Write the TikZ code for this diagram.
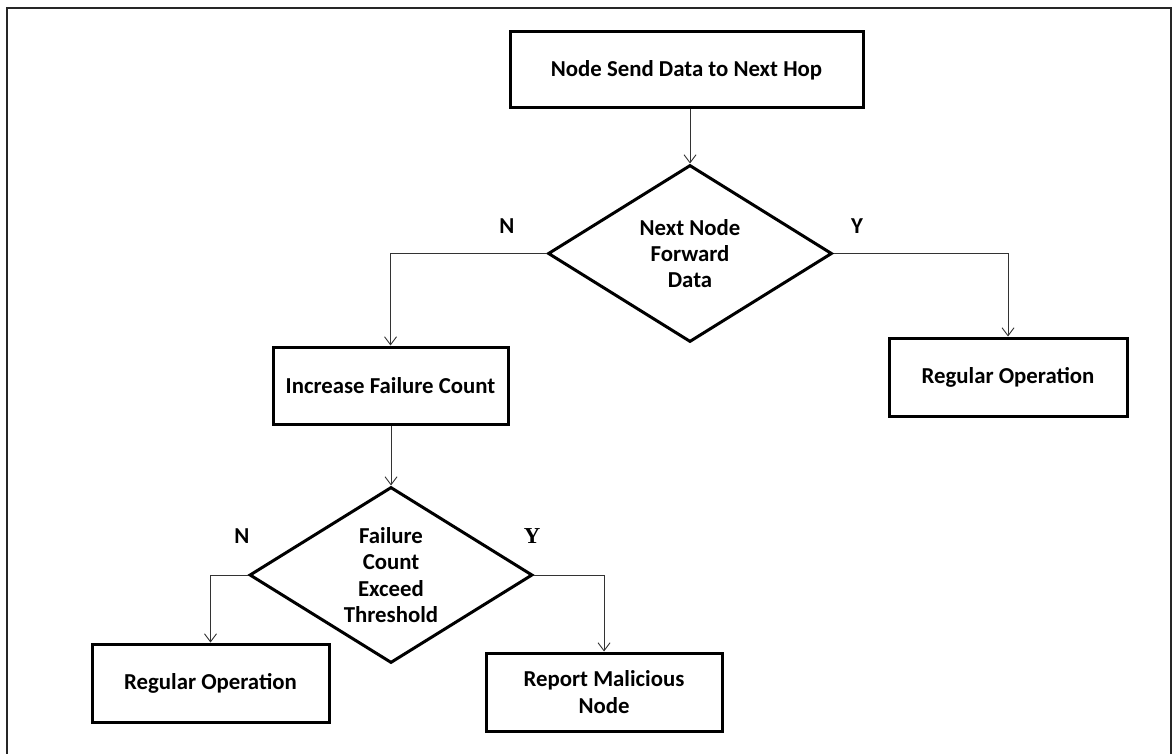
\documentclass[tikz,border=0pt]{standalone}
\usepackage{fontspec}
\setmainfont{Carlito}
\newfontfamily\serifY{Liberation Serif}
\usetikzlibrary{shapes.geometric,arrows.meta}
\tikzset{
  box/.style={draw=black, line width=3pt, rectangle, inner sep=0pt, align=center, font=\fontsize{22.8}{26.3}\selectfont\bfseries},
  decision/.style={draw=black, line width=3pt, diamond, aspect=1.6, inner sep=0pt, align=center, font=\fontsize{22.8}{26.3}\selectfont\bfseries},
  conn/.style={draw=black!80, line width=1pt, -{Straight Barb[length=8pt,width=12pt,line width=0.9pt]}},
  lbl/.style={font=\fontsize{22.8}{26}\selectfont\bfseries, inner sep=0pt},
}
\begin{document}
\begin{tikzpicture}[x=1pt,y=-1pt]
\useasboundingbox (0,0) rectangle (1173,754);
\draw[line width=2pt, black!85] (7,754) -- (7,8) -- (1171,8) -- (1171,754);

\node[box, minimum width=353, minimum height=76] (top) at (686.5,70) {Node Send Data to Next Hop};
\node[decision, minimum width=284, minimum height=177] (d1) at (690,253.5) {Next Node\\Forward\\Data};
\node[box, minimum width=235, minimum height=77] (inc) at (390.5,385.5) {Increase Failure Count};
\node[box, minimum width=238, minimum height=78] (reg1) at (1008,377) {Regular Operation};
\node[decision, minimum width=283, minimum height=176] (d2) at (391,575) {Failure\\Count\\Exceed\\Threshold};
\node[box, minimum width=237, minimum height=78] (reg2) at (210.5,683) {Regular Operation};
\node[box, minimum width=236, minimum height=78] (rep) at (604,692) {Report Malicious\\Node};

\node[lbl] (n1) at (507,226) {N};
\node[lbl] (y1) at (857,226) {Y};
\node[lbl] (n2) at (242,536) {N};
\node[lbl, font=\fontsize{22.8}{26}\selectfont\bfseries\serifY] (y2) at (532,536) {Y};

\draw[conn] (top.south -| d1.north) -- (d1.north);
\draw[conn] (d1.west) -| (inc.north);
\draw[conn] (d1.east) -| (reg1.north);
\draw[conn] (inc.south -| d2.north) -- (d2.north);
\draw[conn] (d2.west) -| (reg2.north);
\draw[conn] (d2.east) -| (rep.north);
\end{tikzpicture}
\end{document}
